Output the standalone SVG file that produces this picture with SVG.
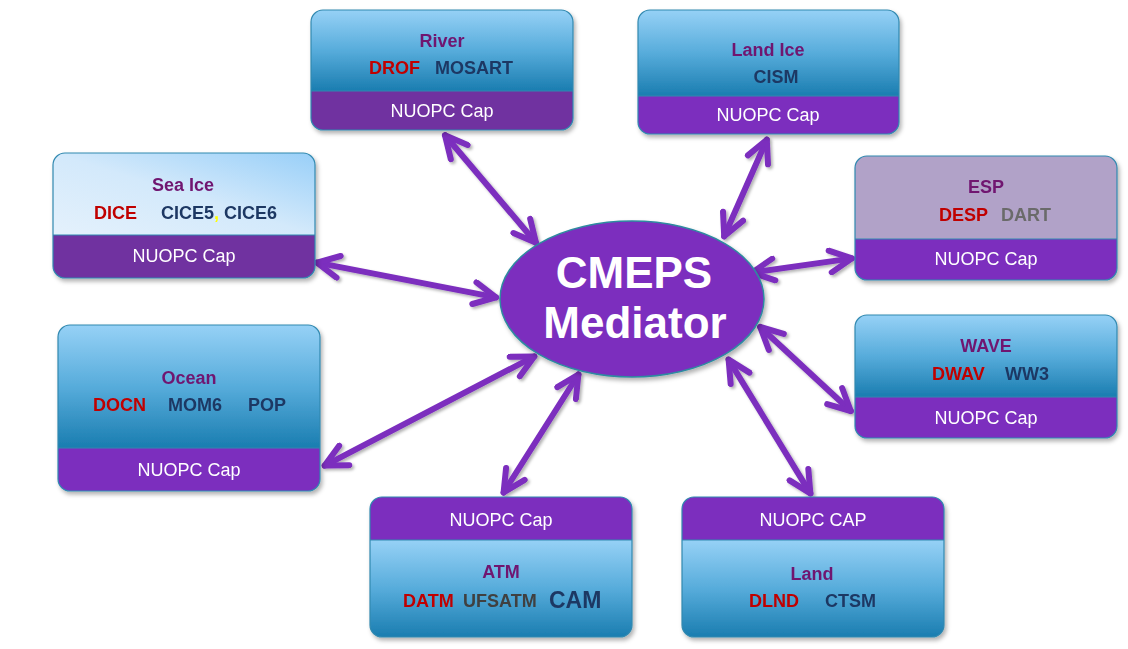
<svg xmlns="http://www.w3.org/2000/svg" width="1128" height="649" viewBox="0 0 1128 649">
<defs>
<style>
.hdr{fill:url(#blue)}
.band{fill:#7b2fbe}
.band2{fill:#7030a0}
.brd{fill:none;stroke:#3189b0;stroke-width:1.2}
.sep{stroke:#3189b0;stroke-width:1}
text{font-family:"Liberation Sans",Arial,sans-serif}
.t{font-size:18px;font-weight:bold;fill:#701470;text-anchor:middle}
.r{font-size:18px;font-weight:bold;fill:#c00000}
.n{font-size:18px;font-weight:bold;fill:#1f3864}
.g{font-size:18px;font-weight:bold;fill:#6b6b6b}
.dg{font-size:18px;font-weight:bold;fill:#404040}
.cap{font-size:18px;fill:#ffffff;text-anchor:middle}
.big{font-size:44px;font-weight:bold;fill:#ffffff;text-anchor:middle}
.lg{font-size:23px}
.conn line{stroke:#7b2fbe;stroke-width:6;stroke-linecap:round;marker-start:url(#ah);marker-end:url(#ah)}
</style>
<linearGradient id="blue" x1="0" y1="0" x2="0" y2="1">
<stop offset="0" stop-color="#96d1f6"/>
<stop offset="0.5" stop-color="#57acdb"/>
<stop offset="1" stop-color="#1a7db0"/>
</linearGradient>
<linearGradient id="ice" x1="0" y1="1" x2="1" y2="0">
<stop offset="0" stop-color="#e4f1fc"/>
<stop offset="0.5" stop-color="#d3e9fb"/>
<stop offset="1" stop-color="#98cff8"/>
</linearGradient>
<filter id="sh" x="-10%" y="-10%" width="120%" height="130%">
<feDropShadow dx="2" dy="3" stdDeviation="2" flood-color="#000" flood-opacity="0.3"/>
</filter>
<filter id="ash" x="-20%" y="-20%" width="140%" height="140%">
<feDropShadow dx="2" dy="2" stdDeviation="1.5" flood-color="#000" flood-opacity="0.3"/>
</filter>
<marker id="ah" viewBox="-26 -14 30 28" refX="0" refY="0" markerWidth="30" markerHeight="28" markerUnits="userSpaceOnUse" orient="auto-start-reverse">
<path d="M-22,-11 L0,0 L-22,11" fill="none" stroke="#7b2fbe" stroke-width="6" stroke-linecap="round" stroke-linejoin="round"/>
</marker>
</defs>
<rect width="1128" height="649" fill="#ffffff"/>

<g id="connectors" class="conn" filter="url(#ash)">
<line x1="445" y1="135.3" x2="536" y2="242.7"/>
<line x1="766.8" y1="139.7" x2="724.2" y2="236.3"/>
<line x1="317" y1="262.6" x2="496" y2="297.4"/>
<line x1="852" y1="258.4" x2="752" y2="272.6"/>
<line x1="760.2" y1="327" x2="850.8" y2="411"/>
<line x1="728.6" y1="359.6" x2="810.4" y2="493.4"/>
<line x1="324.7" y1="465.6" x2="534.3" y2="356.4"/>
<line x1="503.6" y1="492.5" x2="578.4" y2="374.5"/>
</g>

<g id="mediator">
<ellipse cx="632" cy="299" rx="132" ry="78" fill="#7b2fbe" stroke="#2f8aa0" stroke-width="1.5" filter="url(#sh)"/>
<text class="big" x="634" y="288">CMEPS</text>
<text class="big" x="635" y="338">Mediator</text>
</g>

<g id="river" filter="url(#sh)">
<path class="hdr" d="M311,91 V22 A12,12 0 0 1 323,10 H561 A12,12 0 0 1 573,22 V91 Z"/>
<path class="band2" d="M311,91 H573 V118 A12,12 0 0 1 561,130 H323 A12,12 0 0 1 311,118 Z"/>
<line class="sep" x1="311" y1="91" x2="573" y2="91"/>
<rect class="brd" x="311" y="10" width="262" height="120" rx="12"/>
<text class="t" x="442" y="47">River</text>
<text class="r" x="369" y="74">DROF</text>
<text class="n" x="435" y="74">MOSART</text>
<text class="cap" x="442" y="117">NUOPC Cap</text>
</g>

<g id="landice" filter="url(#sh)">
<path class="hdr" d="M638,96 V22 A12,12 0 0 1 650,10 H887 A12,12 0 0 1 899,22 V96 Z"/>
<path class="band" d="M638,96 H899 V122 A12,12 0 0 1 887,134 H650 A12,12 0 0 1 638,122 Z"/>
<line class="sep" x1="638" y1="96" x2="899" y2="96"/>
<rect class="brd" x="638" y="10" width="261" height="124" rx="12"/>
<text class="t" x="768" y="56">Land Ice</text>
<text class="n" x="776" y="83" text-anchor="middle">CISM</text>
<text class="cap" x="768" y="121">NUOPC Cap</text>
</g>

<g id="seaice" filter="url(#sh)">
<path d="M53,235 V165 A12,12 0 0 1 65,153 H303 A12,12 0 0 1 315,165 V235 Z" fill="url(#ice)"/>
<path class="band2" d="M53,235 H315 V266 A12,12 0 0 1 303,278 H65 A12,12 0 0 1 53,266 Z"/>
<line class="sep" x1="53" y1="235" x2="315" y2="235"/>
<rect class="brd" x="53" y="153" width="262" height="125" rx="12"/>
<text class="t" x="183" y="191">Sea Ice</text>
<text class="r" x="94" y="219">DICE</text>
<text class="n" x="161" y="219">CICE5<tspan fill="#ffff00">,</tspan> CICE6</text>
<text class="cap" x="184" y="262">NUOPC Cap</text>
</g>

<g id="esp" filter="url(#sh)">
<path d="M855,239 V168 A12,12 0 0 1 867,156 H1105 A12,12 0 0 1 1117,168 V239 Z" fill="#b1a2c8"/>
<path class="band" d="M855,239 H1117 V268 A12,12 0 0 1 1105,280 H867 A12,12 0 0 1 855,268 Z"/>
<line class="sep" x1="855" y1="239" x2="1117" y2="239"/>
<rect class="brd" x="855" y="156" width="262" height="124" rx="12"/>
<text class="t" x="986" y="193">ESP</text>
<text class="r" x="939" y="221">DESP</text>
<text class="g" x="1001" y="221">DART</text>
<text class="cap" x="986" y="265">NUOPC Cap</text>
</g>

<g id="ocean" filter="url(#sh)">
<path class="hdr" d="M58,448 V337 A12,12 0 0 1 70,325 H308 A12,12 0 0 1 320,337 V448 Z"/>
<path class="band" d="M58,448 H320 V479 A12,12 0 0 1 308,491 H70 A12,12 0 0 1 58,479 Z"/>
<line class="sep" x1="58" y1="448" x2="320" y2="448"/>
<rect class="brd" x="58" y="325" width="262" height="166" rx="12"/>
<text class="t" x="189" y="384">Ocean</text>
<text class="r" x="93" y="411">DOCN</text>
<text class="n" x="168" y="411">MOM6</text>
<text class="n" x="248" y="411">POP</text>
<text class="cap" x="189" y="476">NUOPC Cap</text>
</g>

<g id="wave" filter="url(#sh)">
<path class="hdr" d="M855,397 V327 A12,12 0 0 1 867,315 H1105 A12,12 0 0 1 1117,327 V397 Z"/>
<path class="band" d="M855,397 H1117 V426 A12,12 0 0 1 1105,438 H867 A12,12 0 0 1 855,426 Z"/>
<line class="sep" x1="855" y1="397" x2="1117" y2="397"/>
<rect class="brd" x="855" y="315" width="262" height="123" rx="12"/>
<text class="t" x="986" y="352">WAVE</text>
<text class="r" x="932" y="380">DWAV</text>
<text class="n" x="1005" y="380">WW3</text>
<text class="cap" x="986" y="424">NUOPC Cap</text>
</g>

<g id="atm" filter="url(#sh)">
<path class="band" d="M370,540 V509 A12,12 0 0 1 382,497 H620 A12,12 0 0 1 632,509 V540 Z"/>
<path class="hdr" d="M370,540 H632 V625 A12,12 0 0 1 620,637 H382 A12,12 0 0 1 370,625 Z"/>
<line class="sep" x1="370" y1="540" x2="632" y2="540"/>
<rect class="brd" x="370" y="497" width="262" height="140" rx="12"/>
<text class="cap" x="501" y="526">NUOPC Cap</text>
<text class="t" x="501" y="578">ATM</text>
<text class="r" x="403" y="607">DATM</text>
<text class="dg" x="463" y="607">UFSATM</text>
<text class="n lg" x="549" y="608">CAM</text>
</g>

<g id="land" filter="url(#sh)">
<path class="band" d="M682,540 V509 A12,12 0 0 1 694,497 H932 A12,12 0 0 1 944,509 V540 Z"/>
<path class="hdr" d="M682,540 H944 V625 A12,12 0 0 1 932,637 H694 A12,12 0 0 1 682,625 Z"/>
<line class="sep" x1="682" y1="540" x2="944" y2="540"/>
<rect class="brd" x="682" y="497" width="262" height="140" rx="12"/>
<text class="cap" x="813" y="526">NUOPC CAP</text>
<text class="t" x="812" y="580">Land</text>
<text class="r" x="749" y="607">DLND</text>
<text class="n" x="825" y="607">CTSM</text>
</g>
</svg>
